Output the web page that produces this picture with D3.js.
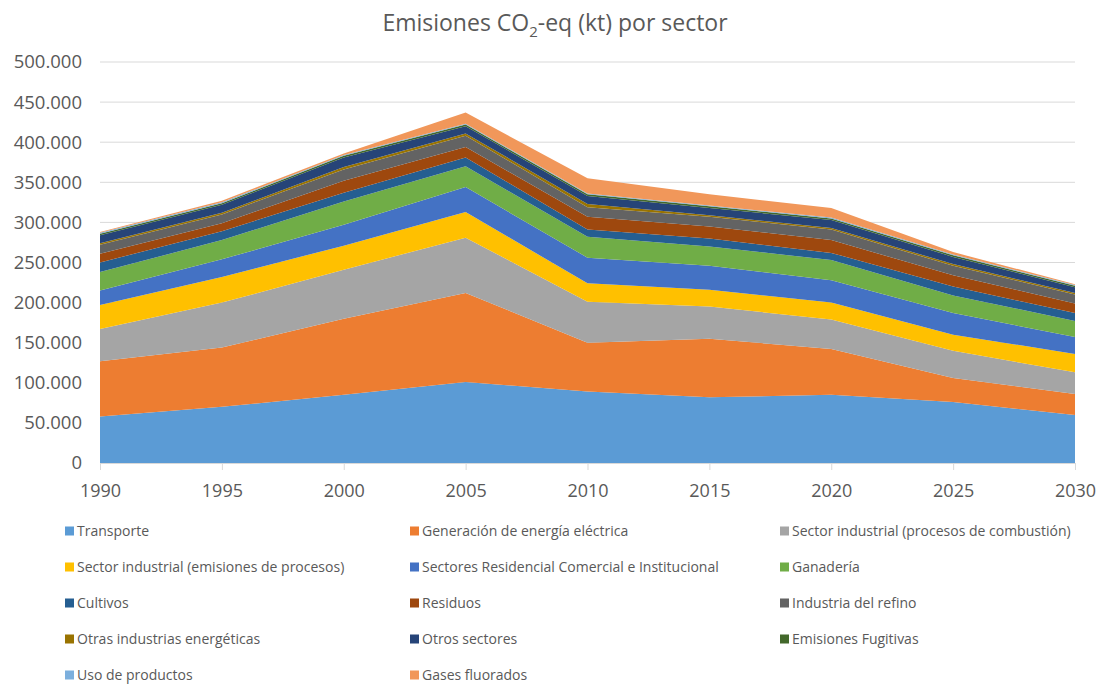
<!DOCTYPE html>
<html>
<head>
<meta charset="utf-8">
<script src="https://cdn.jsdelivr.net/npm/d3@7"></script>
<style>
body { margin:0; background:#fff; }
text { font-family: "Open Sans", Lato, sans-serif; }
</style>
</head>
<body>
<script>
// years on the x axis
var years = [1990, 1995, 2000, 2005, 2010, 2015, 2020, 2025, 2030];

// kt CO2-eq per sector
var transporte      = [58000, 70000, 85000, 101000, 89000, 82000, 85000, 76000, 60000];
var generacion      = [69000, 74000, 95000, 111000, 61000, 73000, 57000, 30000, 26000];
var indCombustion   = [40000, 56000, 61000, 69000, 51000, 40000, 37000, 34000, 27000];
var indProcesos     = [30000, 32000, 30000, 32000, 23000, 21000, 21000, 20000, 23000];
var residencial     = [18000, 22000, 26000, 31000, 32000, 30000, 28000, 27000, 21000];
var ganaderia       = [23000, 24000, 29000, 26000, 26000, 24000, 25000, 22000, 20000];
var cultivos        = [12000, 11000, 11000, 11000, 9000, 10000, 9000, 11000, 10000];
var residuos        = [11000, 10000, 15000, 13000, 16000, 15000, 16000, 14000, 12000];
var refino          = [11000, 11000, 14000, 14000, 12000, 12000, 13000, 12000, 11000];
var otrasEnergia    = [2000, 2000, 3000, 3000, 4000, 2000, 2000, 2000, 2000];
var otrosSectores   = [10000, 10000, 12000, 9000, 10000, 9000, 10000, 9000, 7000];
var fugitivas       = [2000, 2000, 2000, 2000, 2000, 2000, 2000, 2000, 2000];
var usoProductos    = [1000, 1000, 1000, 1000, 1000, 1000, 1000, 1000, 1000];
var fluorados       = [1000, 2000, 2000, 14000, 19000, 14000, 12000, 3000, 1000];

var yTicks = [0, 50000, 100000, 150000, 200000, 250000, 300000, 350000, 400000, 450000, 500000];

var series = [
  {name:'Transporte', values:transporte, color:'#5B9BD5'},
  {name:'Generación de energía eléctrica', values:generacion, color:'#ED7D31'},
  {name:'Sector industrial (procesos de combustión)', values:indCombustion, color:'#A5A5A5'},
  {name:'Sector industrial (emisiones de procesos)', values:indProcesos, color:'#FFC000'},
  {name:'Sectores Residencial Comercial e Institucional', values:residencial, color:'#4472C4'},
  {name:'Ganadería', values:ganaderia, color:'#70AD47'},
  {name:'Cultivos', values:cultivos, color:'#255E91'},
  {name:'Residuos', values:residuos, color:'#9E480E'},
  {name:'Industria del refino', values:refino, color:'#636363'},
  {name:'Otras industrias energéticas', values:otrasEnergia, color:'#997300'},
  {name:'Otros sectores', values:otrosSectores, color:'#264478'},
  {name:'Emisiones Fugitivas', values:fugitivas, color:'#43682B'},
  {name:'Uso de productos', values:usoProductos, color:'#7CAFDD'},
  {name:'Gases fluorados', values:fluorados, color:'#F1975A'}
];

var width = 1101, height = 684;
var svg = d3.select('body').append('svg')
  .attr('width', width).attr('height', height);

var x = d3.scaleLinear().domain([1990, 2030]).range([100, 1075]);
var y = d3.scaleLinear().domain([0, 500000]).range([463, 62]);

// table for d3.stack
var table = years.map(function(yr, i) {
  var row = {year: yr};
  series.forEach(function(s) { row[s.name] = s.values[i]; });
  return row;
});
var stacked = d3.stack().keys(series.map(function(s){ return s.name; }))(table);

// gridlines
svg.append('g').selectAll('line')
  .data(yTicks.slice(1))
  .enter().append('line')
  .attr('x1', 100).attr('x2', 1075)
  .attr('y1', function(d){ return y(d); })
  .attr('y2', function(d){ return y(d); })
  .attr('stroke', '#D9D9D9').attr('stroke-width', 1);

var area = d3.area()
  .x(function(d){ return x(d.data.year); })
  .y0(function(d){ return y(d[0]); })
  .y1(function(d){ return y(d[1]); });

svg.append('g').selectAll('path')
  .data(stacked)
  .enter().append('path')
  .attr('fill', function(d, i){ return series[i].color; })
  .attr('d', area);

// x axis
var xAxis = d3.axisBottom(x).tickValues(years).tickFormat(d3.format('d')).tickSize(7).tickPadding(14);
var gx = svg.append('g').attr('transform', 'translate(0,463)').call(xAxis);
gx.select('.domain').attr('stroke', '#D9D9D9');
gx.selectAll('.tick line').attr('stroke', '#D9D9D9');
gx.selectAll('text').attr('fill', '#595959').style('font-size', '18px')
  .style('font-family', '"Open Sans", sans-serif');

// y axis labels
var fmt = function(d) { return d === 0 ? '0' : d3.format(',')(d).replace(/,/g, '.'); };
svg.append('g').selectAll('text')
  .data(yTicks)
  .enter().append('text')
  .attr('x', 82).attr('y', function(d){ return y(d); })
  .attr('dy', '0.35em')
  .attr('text-anchor', 'end')
  .attr('fill', '#595959')
  .style('font-size', '18.5px')
  .text(fmt);

// title
var title = svg.append('text')
  .attr('x', 555).attr('y', 31)
  .attr('text-anchor', 'middle')
  .attr('fill', '#595959')
  .style('font-size', '23px');
title.append('tspan').text('Emisiones CO');
title.append('tspan').attr('dy', 6).style('font-size', '15px').text('2');
title.append('tspan').attr('dy', -6).text('-eq (kt) por sector');

// legend
var colX = [65, 410, 780];
var legend = svg.append('g').selectAll('g')
  .data(series)
  .enter().append('g')
  .attr('transform', function(d, i) {
    return 'translate(' + colX[i % 3] + ',' + (531 + Math.floor(i / 3) * 36) + ')';
  });
legend.append('rect')
  .attr('x', 0).attr('y', -4.5).attr('width', 9).attr('height', 9)
  .attr('fill', function(d){ return d.color; });
legend.append('text')
  .attr('x', 12).attr('dy', '0.35em')
  .attr('fill', '#595959')
  .style('font-size', '14px')
  .text(function(d){ return d.name; });
</script>
</body>
</html>
